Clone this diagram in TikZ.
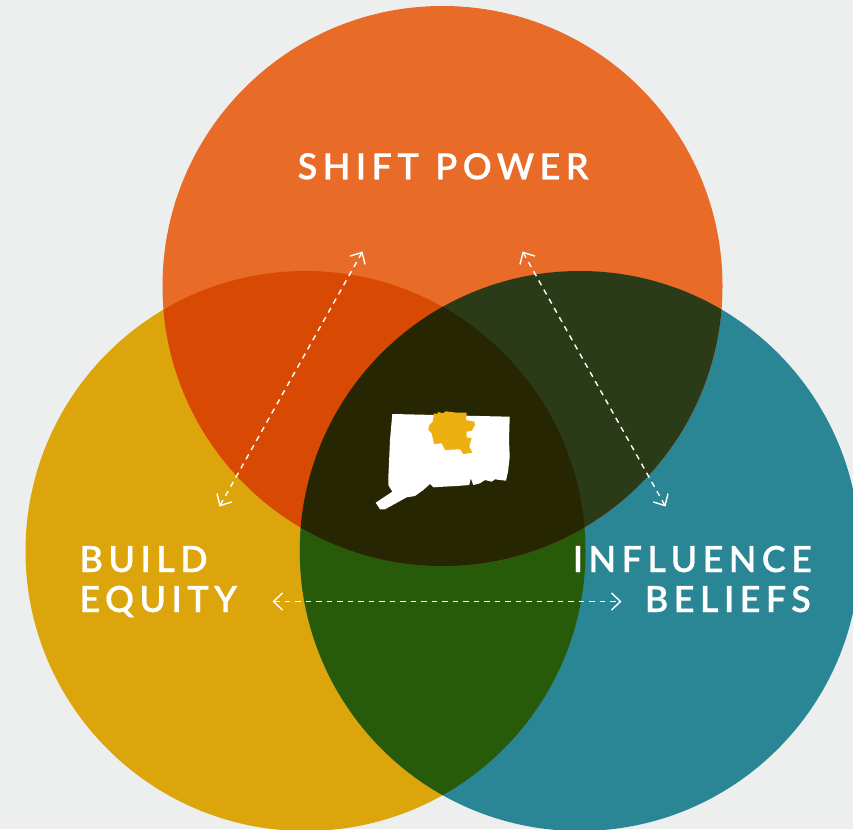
\documentclass[tikz,border=0pt]{standalone}
\usepackage{fontspec}
\setmainfont{Lato}
\newfontfamily\lbl[LetterSpace=15,Ligatures=NoCommon,FakeBold=0.5,WordSpace=1.15]{Lato Semibold}
\usetikzlibrary{arrows.meta}
\definecolor{bgc}{HTML}{EDEFEF}
\definecolor{orc}{HTML}{E96B28}
\definecolor{yec}{HTML}{DCA50B}
\definecolor{tec}{HTML}{2A8695}
\definecolor{oyc}{HTML}{D84A03}
\definecolor{otc}{HTML}{2B3B18}
\definecolor{ytc}{HTML}{285B09}
\definecolor{allc}{HTML}{272602}
\definecolor{gold}{HTML}{EEB010}
\tikzset{
  venn/.style={circle,minimum size=560pt,inner sep=0pt,outer sep=0pt,draw=none},
  title/.style={text=white,font=\lbl\fontsize{36}{39}\selectfont,inner sep=0pt},
  biarrow/.style={white,line width=1.4pt,dash pattern=on 5.5pt off 5pt,
    {Straight Barb[length=9pt,width=17pt,line width=1.4pt]}-{Straight Barb[length=9pt,width=17pt,line width=1.4pt]}}
}
\begin{document}
\begin{tikzpicture}[x=1pt,y=-1pt]
\useasboundingbox (0,0) rectangle (853,829);
\fill[bgc] (0,0) rectangle (853,829);
\clip (0,0) rectangle (853,829);
\coordinate (ct) at (442.5,286);
\coordinate (cl) at (305.5,551);
\coordinate (cr) at (579.8,551);
\def\rr{280}
\node[venn,fill=yec] (yellow) at (cl) {};
\node[venn,fill=tec] (teal) at (cr) {};
\node[venn,fill=orc] (orange) at (ct) {};
\begin{scope}
  \clip (cl) circle (\rr);
  \fill[ytc] (cr) circle (\rr);
\end{scope}
\begin{scope}
  \clip (ct) circle (\rr);
  \fill[oyc] (cl) circle (\rr);
  \fill[otc] (cr) circle (\rr);
  \clip (cl) circle (\rr);
  \fill[allc] (cr) circle (\rr);
\end{scope}
% state shape
\fill[white] (392.3,414) -- (509.7,416.7) -- (509,440) -- (509.7,456.7) -- (508,471.7) -- (506,480.7)
  -- (500,480) -- (495,479.3) -- (491.7,481.7) -- (485,480) -- (480,483.3) -- (473.3,485) -- (470.7,478.3)
  -- (469.3,485) -- (456.7,486) -- (443.3,486.7) -- (433.3,487.3) -- (430,484) -- (423.3,490) -- (415,496)
  -- (406.7,497.3) -- (385,509.3) -- (380,509.3) -- (375.7,502.7) -- (392.3,491.7) -- (388.3,485) -- (388.3,478.3) -- (390,440) -- cycle;
\fill[gold] (434,413.3) -- (437.3,414) -- (438.3,412) -- (442.7,413.3) -- (446,411.3) -- (456.7,412.7) -- (466.7,412.7)
  -- (466,420) -- (474.3,421.7) -- (475,425) -- (471.7,430.7) -- (466.7,431.7) -- (466.7,437.3) -- (471.7,438.3)
  -- (470,443.3) -- (469.3,446.7) -- (472.3,452.7) -- (463.3,454) -- (460,449.3) -- (445,450) -- (441.7,443.3)
  -- (434,444) -- (431.7,433.3) -- (428.3,430) -- (429.3,425) -- (432.7,421.7) -- cycle;
% labels
\node[title,anchor=base west] (shift) at (297.5,179.3) {SHIFT POWER};
\node[title,anchor=base west] (build) at (79.3,572) {BUILD};
\node[title,anchor=base west] (equity) at (79.3,612) {EQUITY};
\node[title,anchor=base east] (influence) at (812,572) {INFLUENCE};
\node[title,anchor=base east] (beliefs) at (811,612) {BELIEFS};
% connectors
\coordinate (a1) at (219.5,506.5);
\coordinate (a2) at (362.5,251.5);
\coordinate (b1) at (522.5,251.5);
\coordinate (b2) at (665.5,506.5);
\coordinate (c1) at (272.5,601.5);
\coordinate (c2) at (621.5,601.5);
\draw[biarrow] (a1) -- (a2);
\draw[biarrow] (b1) -- (b2);
\draw[biarrow] (c1) -- (c2);
\end{tikzpicture}
\end{document}
